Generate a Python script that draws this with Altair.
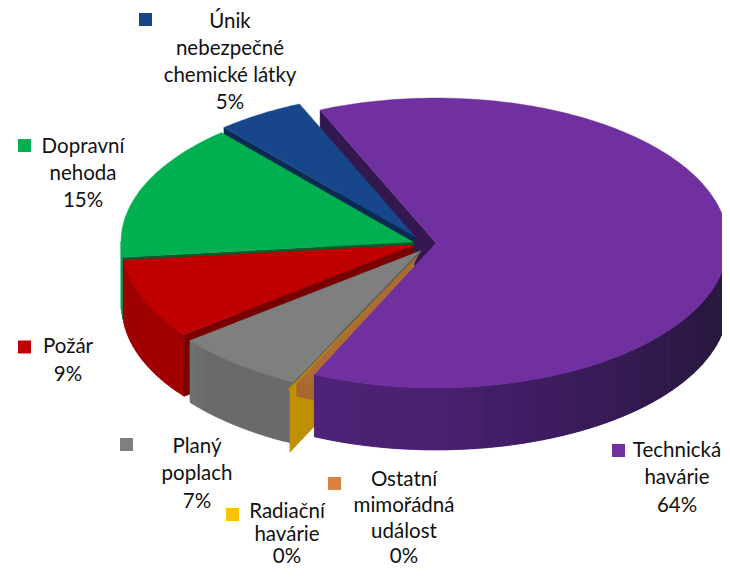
import math
import altair as alt
import pandas as pd

# ---------- data ----------
names = ["Technická havárie", "Ostatní mimořádná událost", "Radiační havárie",
         "Planý poplach", "Požár", "Dopravní nehoda", "Únik nebezpečné chemické látky"]
shares = [63.4, 0.15, 0.15, 7.3, 8.9, 15.3, 4.9]
percent_labels = ["64%", "0%", "0%", "7%", "9%", "15%", "5%"]
label_lines = [["Technická", "havárie"], ["Ostatní", "mimořádná", "událost"], ["Radiační", "havárie"],
               ["Planý", "poplach"], ["Požár"], ["Dopravní", "nehoda"], ["Únik", "nebezpečné", "chemické látky"]]
marker_colors = ["#7030A0", "#DC8240", "#FFC000", "#7F7F7F", "#C00000", "#00B050", "#17478A"]

# ---------- layout / style ----------
START_ANGLE = -23.4
RX, RY, DEPTH = 292, 145, 62
apex = [(436, 243), (421, 250), (414, 259), (420, 251), (414, 245), (413, 242), (415.5, 237)]
top_colors = ["#7030A0", "#AD6C34", "#B88A05", "#7F7F7F", "#C00000", "#00B050", "#17478A"]
cut_colors = ["#32184E", None, "#BF9000", "#5C5C5C", "#780000", "#0B5A2E", "#0C2A50"]
cut_depth = [DEPTH, 0, DEPTH, 2, DEPTH, DEPTH, DEPTH]
rim_stops = [
    [(90, "#2B1A44"), (110, "#2A1840"), (130, "#301A4C"), (155, "#3D1C5F"), (180, "#4A2172"), (205, "#4F2277")],
    [(190, "#A9672F"), (206, "#A9672F")], None,
    [(204, "#6A6A6A"), (225, "#6A6A6A"), (233, "#787878")],
    [(230, "#A00000"), (265, "#A00000")],
    [(263, "#00A54B"), (271, "#00A54B")], None,
]
rim_depth = [DEPTH, 15, 0, DEPTH, DEPTH, DEPTH, 0]
extra_back = [0, 10, 0, 0, 0, 0, 0]   # orange sliver reaches back under the purple slice
paint_order = [(0, "cut"), (6, "cut"), (6, "top"), (5, "rim"), (5, "cut"), (5, "top"),
               (4, "rim"), (4, "cut"), (4, "top"), (3, "rim"), (2, "cut"), (1, "rim"), (1, "top"), (2, "top"),
               (3, "cut"), (3, "top"), (0, "rim"), (0, "top")]
label_pos = [  # (text centre x, line ys, marker x, marker y)
    (677, [451, 478, 506], 618.5, 450.5), (404, [480, 506, 532, 557], 334.5, 483.5),
    (287, [512, 535, 557], 232.5, 514.5), (197, [447, 474, 502], 126.5, 444.5),
    (68, [347, 375], 24.5, 347), (83, [147, 174, 201], 24.5, 145.5),
    (230, [22, 49, 76, 103], 145.5, 19.5),
]
FONT, FONT_SIZE, TEXT_COLOR = "Lato", 20.5, "#111111"

# ---------- geometry derived from the shares ----------
total = sum(shares)
starts, ends, acc = [], [], START_ANGLE
for s in shares:
    starts.append(acc)
    acc += s / total * 360
    ends.append(acc)


def rim(i, deg, dy=0):
    a = math.radians(deg)
    return (apex[i][0] + RX * math.sin(a), apex[i][1] - RY * math.cos(a) + dy)


def mix(c1, c2, t):
    v1 = [int(c1[k:k + 2], 16) for k in (1, 3, 5)]
    v2 = [int(c2[k:k + 2], 16) for k in (1, 3, 5)]
    return "#" + "".join(f"{round(a + (b - a) * t):02x}" for a, b in zip(v1, v2))


def stop_color(stops, deg):
    for (a0, c0), (a1, c1) in zip(stops, stops[1:]):
        if a0 <= deg <= a1:
            return mix(c0, c1, (deg - a0) / (a1 - a0))
    return stops[0][1] if deg < stops[0][0] else stops[-1][1]


rows, gid = [], 0


def add_poly(points, color):
    global gid
    for k, (x, y) in enumerate(points):
        rows.append({"x": x, "y": y, "gid": gid, "k": k, "c": color})
    gid += 1


for i, part in paint_order:
    a0, a1 = starts[i] - extra_back[i], ends[i]
    if part == "top":
        n = max(2, int(a1 - a0) + 2)
        arc = [rim(i, a0 + (a1 - a0) * j / n) for j in range(n + 1)]
        add_poly([apex[i]] + arc, top_colors[i])
    elif part == "cut":
        r = rim(i, starts[i])
        ax, ay = apex[i]
        d = cut_depth[i]
        add_poly([r, (ax, ay), (ax, ay + d), (r[0], r[1] + d)], cut_colors[i])
    else:
        lo, hi = max(a0, 90), min(a1, 270)
        n = max(1, int((hi - lo) / 2))
        step = (hi - lo) / n
        # painted from the far end so each strip overlaps the previous one: no seams
        for j in range(n - 1, -1, -1):
            d0 = lo + step * j
            d1 = min(hi, d0 + step * 2)
            add_poly([rim(i, d0), rim(i, d1), rim(i, d1, rim_depth[i]), rim(i, d0, rim_depth[i])],
                     stop_color(rim_stops[i], d0 + step / 2))

text_rows, marker_rows = [], []
for i in range(len(names)):
    cx, ys, mx, my = label_pos[i]
    for line, y in zip(label_lines[i] + [percent_labels[i]], ys):
        text_rows.append({"x": cx, "y": y, "t": line})
    marker_rows.append({"x": mx, "y": my, "c": marker_colors[i], "name": names[i]})

x_enc = alt.X("x:Q", scale=alt.Scale(domain=[8, 722], nice=False, zero=False), axis=None)
y_enc = alt.Y("y:Q", scale=alt.Scale(domain=[8, 570], nice=False, zero=False, reverse=True), axis=None)

pie = alt.Chart(pd.DataFrame(rows)).mark_line(interpolate="linear-closed", filled=True, strokeWidth=0.4).encode(
    x=x_enc, y=y_enc, detail="gid:N", order=alt.Order("k:Q"),
    fill=alt.Fill("c:N", scale=None, legend=None),
    stroke=alt.Stroke("c:N", scale=None, legend=None),
)
markers = alt.Chart(pd.DataFrame(marker_rows)).mark_square(size=169, opacity=1, filled=True).encode(
    x=x_enc, y=y_enc, fill=alt.Fill("c:N", scale=None, legend=None),
)
texts = alt.Chart(pd.DataFrame(text_rows)).mark_text(
    font=FONT, fontSize=FONT_SIZE, color=TEXT_COLOR, align="center", baseline="middle"
).encode(x=x_enc, y=y_enc, text="t:N")

chart = alt.layer(pie, markers, texts).properties(
    width=714, height=562, padding=0, autosize=alt.AutoSizeParams(type="none"),
    background="white",
).configure_view(stroke=None)

chart.save("out.html", embed_options={"renderer": "svg", "actions": False})
